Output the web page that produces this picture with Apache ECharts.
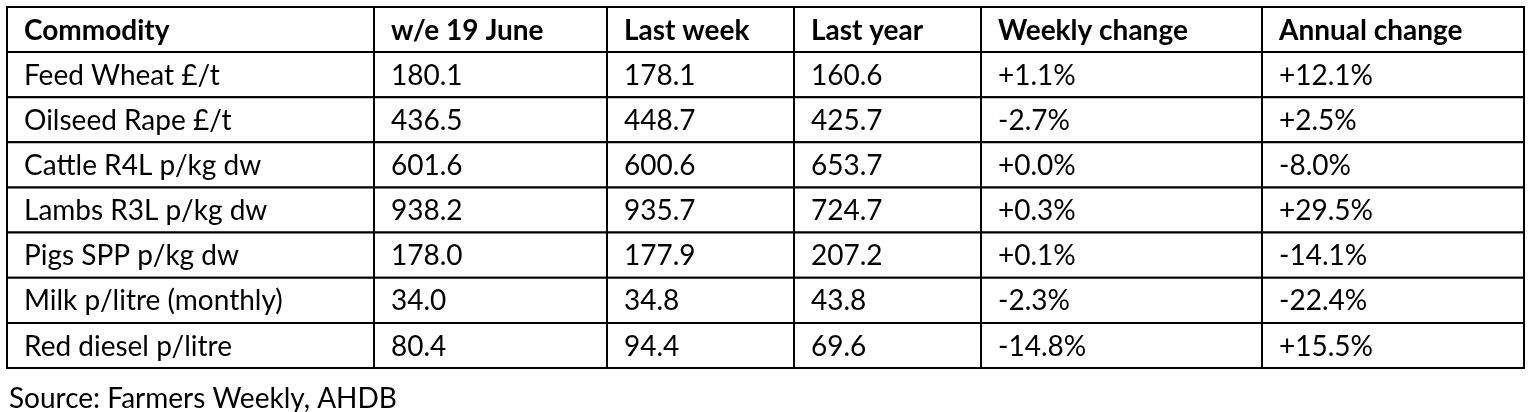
<!DOCTYPE html><html><head><meta charset="utf-8">
<script src="https://cdn.jsdelivr.net/npm/echarts@6/dist/echarts.min.js"></script>
<style>html,body{margin:0;padding:0;background:#fff}#c{width:1535px;height:412px}</style></head><body><div id="c"></div>
<script>
const headers = ['Commodity','w/e 19 June','Last week','Last year','Weekly change','Annual change'];
const commodities = ['Feed Wheat £/t','Oilseed Rape £/t','Cattle R4L p/kg dw','Lambs R3L p/kg dw','Pigs SPP p/kg dw','Milk p/litre (monthly)','Red diesel p/litre'];
const thisWeek = ['180.1','436.5','601.6','938.2','178.0','34.0','80.4'];
const lastWeek = ['178.1','448.7','600.6','935.7','177.9','34.8','94.4'];
const lastYear = ['160.6','425.7','653.7','724.7','207.2','43.8','69.6'];
const weeklyChange = ['+1.1%','-2.7%','+0.0%','+0.3%','+0.1%','-2.3%','-14.8%'];
const annualChange = ['+12.1%','+2.5%','-8.0%','+29.5%','-14.1%','-22.4%','+15.5%'];
const source = 'Source: Farmers Weekly, AHDB';

const colX = [7,374,607,794,981,1262,1524];
const top0 = 7, headH = 45, rowH = 45.15;
const cells = [];
headers.forEach((h,c)=>cells.push([c,0,h,1]));
commodities.forEach((n,r)=>{
  [n,thisWeek[r],lastWeek[r],lastYear[r],weeklyChange[r],annualChange[r]].forEach((v,c)=>cells.push([c,r+1,v,0]));
});
const chart = echarts.init(document.getElementById('c'));
chart.setOption({
  animation:false,
  title:{text:source,left:4,top:380,textStyle:{fontFamily:'Lato',fontSize:28,fontWeight:'normal',color:'#000'}},
  series:[{type:'custom',coordinateSystem:'none',data:cells,
    renderItem:(p,api)=>{
      const c=api.value(0), r=api.value(1), d=cells[p.dataIndex];
      const x=colX[c], w=colX[c+1]-colX[c];
      const y = r===0?top0:top0+headH+(r-1)*rowH, h = r===0?headH:rowH;
      return {type:'group',children:[
        {type:'rect',shape:{x:x,y:y,width:w,height:h},style:{fill:'#fff',stroke:'#000',lineWidth:2}},
        {type:'text',style:{x:x+17,y:y+h/2+1,text:d[2],fill:'#000',font:(d[3]?'bold ':'')+'28px Lato',textVerticalAlign:'middle',textAlign:'left'}}
      ]};
    }}]
});
</script></body></html>
